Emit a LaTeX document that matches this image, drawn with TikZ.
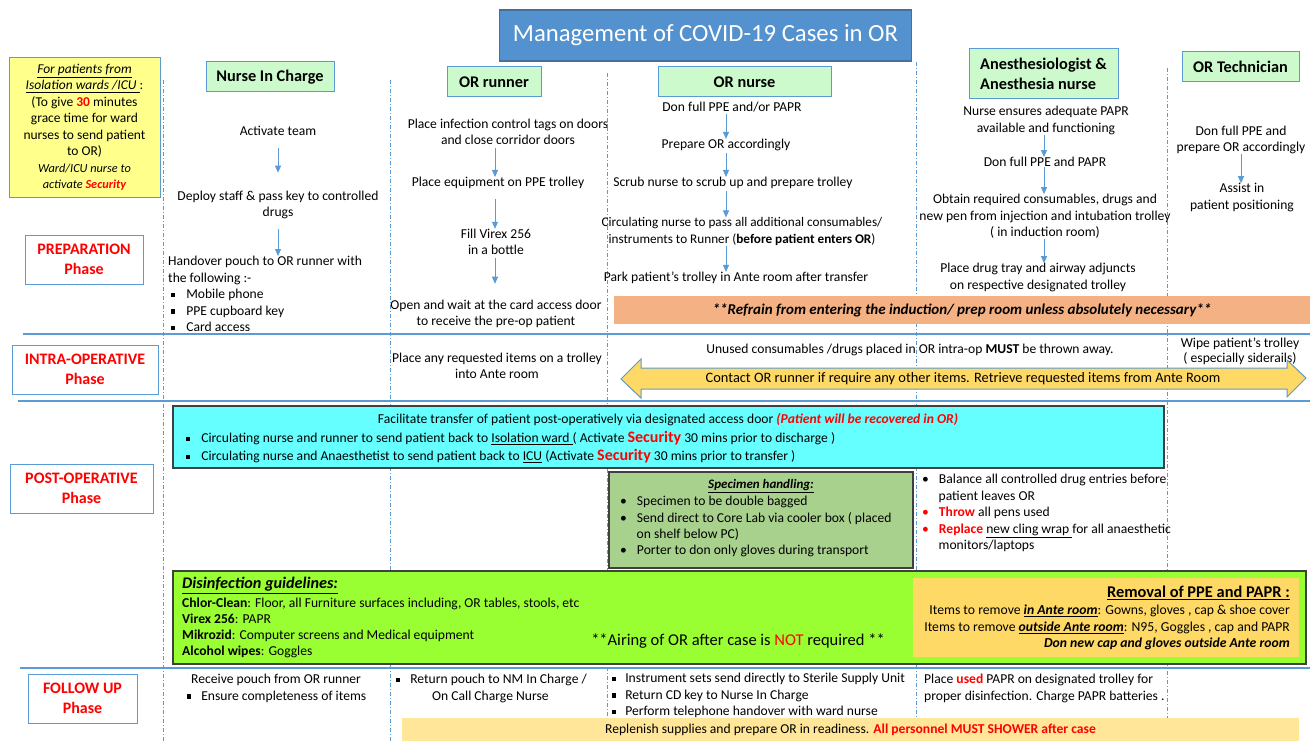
\documentclass[tikz,border=0pt]{standalone}
\usepackage{fontspec}
\setmainfont{Carlito}
\usepackage{tikz}
\usetikzlibrary{arrows.meta, positioning}
\usepackage{xcolor}
\definecolor{laneblue}{RGB}{91,155,213}
\definecolor{titleblue}{RGB}{84,146,207}
\definecolor{titleedge}{RGB}{65,113,156}
\definecolor{rolegreen}{RGB}{204,250,204}
\definecolor{noteyellow}{RGB}{255,255,140}
\definecolor{refrorange}{RGB}{244,177,131}
\definecolor{arrowyellow}{RGB}{255,217,102}
\definecolor{xfercyan}{RGB}{102,255,255}
\definecolor{specgreen}{RGB}{169,209,142}
\definecolor{limegreen}{RGB}{153,255,51}
\definecolor{ppeyellow}{RGB}{255,217,102}
\definecolor{restockyellow}{RGB}{255,230,153}
\newcommand{\txtfont}{\fontsize{13.6}{16.5}\selectfont}
\newcommand{\smfont}{\fontsize{13.6}{16.5}\selectfont}
\newcommand{\sqb}{\rule[0.12em]{0.3em}{0.3em}}
\newcommand{\rd}[1]{\textcolor{red}{\textbf{#1}}}
\tikzset{
	block/.style={draw=laneblue, line width=1pt},
	role/.style={block, fill=rolegreen, inner sep=2pt, font=\fontsize{16.3}{20}\selectfont\bfseries},
	phase/.style={block, fill=white, text=red, align=center, font=\fontsize{16}{19.5}\selectfont\bfseries},
	panel/.style={draw=black!75, line width=1.3pt},
	txt/.style={align=center, inner sep=0pt, font=\txtfont},
	sm/.style={align=left, inner sep=0pt, font=\smfont},
	flow/.style={draw=laneblue, line width=0.9pt, -{Triangle[width=6pt,length=7pt]}},
	lane/.style={draw=laneblue, dash pattern=on 4pt off 2pt on 1pt off 2pt, line width=0.8pt},
	phaseline/.style={draw=laneblue, line width=2.2pt}
}

\begin{document}
\begin{tikzpicture}[x=1pt, y=-1pt]
		\useasboundingbox (0,0) rectangle (1314,741);
		\fill[white] (0,0) rectangle (1314,741);
		
		% lanes and phases
		\draw[lane] (163,80) -- (163,741);
		\draw[lane] (390,80) -- (390,741);
		\draw[lane] (607,73) -- (607,741);
		\draw[lane] (916,62) -- (916,741);
		\draw[lane] (1167,68) -- (1167,741);
		\draw[phaseline] (23,334) -- (1310,334);
		\draw[phaseline] (18,401) -- (1310,401);
		\draw[phaseline] (20,668) -- (1310,668);
		
		\node[draw=titleedge, line width=1.2pt, fill=titleblue, text=white, minimum width=412, minimum height=51, font=\fontsize{24.7}{28}\selectfont] (title) at (705.5,35.5) {Management of COVID-19 Cases in OR};
		
		\node[block, fill=noteyellow, minimum width=151, minimum height=139, align=center, inner sep=0pt, font=\fontsize{13.5}{16.5}\selectfont] (isolation) at (84.5,127.5) {\underline{\textit{For patients from}}\\ \underline{\textit{Isolation wards /ICU }}:\\ (To give \rd{30} minutes\\ grace time for ward\\ nurses to send patient\\ to OR)\\ {\fontsize{12.3}{15.5}\selectfont\itshape Ward/ICU nurse to}\\ {\fontsize{12.3}{14.5}\selectfont\itshape activate \rd{Security}}};
		
		\node[role, minimum width=128, minimum height=30] (nic) at (270,77) {Nurse In Charge};
		\node[role, minimum width=94, minimum height=30] (runner) at (494,82) {OR runner};
		\node[role, minimum width=173, minimum height=30] (nurse) at (744.5,82) {OR nurse};
		\node[role, minimum width=149, minimum height=50, align=left] (anaes) at (1043.5,74) {Anesthesiologist \&\\ Anesthesia nurse};
		\node[role, minimum width=117, minimum height=30] (tech) at (1240.5,67) {OR Technician};
		
		\node[phase, minimum width=118, minimum height=49] (prep) at (84,259.5) {PREPARATION\\ Phase};
		\node[phase, minimum width=146, minimum height=49] (intra) at (85,369.5) {INTRA-OPERATIVE\\ Phase};
		\node[phase, minimum width=143, minimum height=49] (post) at (81.5,488.5) {POST-OPERATIVE\\ Phase};
		\node[phase, minimum width=109, minimum height=49] (follow) at (82.5,698.5) {FOLLOW UP\\ Phase};
		
		% preparation
		\coordinate (nicAxis) at (278,0);
		\coordinate (runAxis) at (495,0);
		\coordinate (nurAxis) at (726,0);
		\coordinate (anaAxis) at (1044,0);
		\coordinate (techAxis) at (1241,0);
		
		\node[txt] (nicAct) at (278,131) {Activate team};
		\node[txt] (nicDeploy) at (278,205) {Deploy staff \& pass key to controlled\\ drugs};
		\node[txt, align=left, anchor=north west] (nicHand) at (168,256) {Handover pouch to OR runner with\\ the following :-\\ \hspace*{3pt}\sqb\hspace{11pt}Mobile phone\\ \hspace*{3pt}\sqb\hspace{11pt}PPE cupboard key\\ \hspace*{3pt}\sqb\hspace{11pt}Card access};
		\draw[flow, shorten <=12pt, shorten >=18pt] (nicAct.south -| nicAxis) -- (nicDeploy.north -| nicAxis);
		\draw[flow, shorten <=10pt] (nicDeploy.south -| nicAxis) -- (nicHand.north -| nicAxis);
		
		\node[txt] (runTags) at (508,132) {Place infection control tags on doors\\ and close corridor doors};
		\node[txt] (runEquip) at (498,183) {Place equipment on PPE trolley};
		\node[txt] (runVirex) at (496,242) {Fill Virex 256\\ in a bottle};
		\node[txt] (runDoor) at (496,314) {Open and wait at the card access door\\ to receive the pre-op patient};
		\draw[flow, shorten <=3pt] (runTags.south -| runAxis) -- (runEquip.north -| runAxis);
		\draw[flow, shorten <=10pt] (runEquip.south -| runAxis) -- (runVirex.north -| runAxis);
		\draw[flow, shorten <=3pt, shorten >=16pt] (runVirex.south -| runAxis) -- (runDoor.north -| runAxis);
		
		\node[txt] (nurPPE) at (732,107) {Don full PPE and/or PAPR};
		\node[txt] (nurPrep) at (726,145) {Prepare OR accordingly};
		\node[txt] (nurScrub) at (733,183) {Scrub nurse to scrub up and prepare trolley};
		\node[txt, font=\fontsize{13.2}{16.5}\selectfont] (nurCirc) at (742,231.5) {Circulating nurse to pass all additional consumables/\\ instruments to Runner (\textbf{before patient enters OR})};
		\node[txt] (nurPark) at (736,278) {Park patient’s trolley in Ante room after transfer};
		\draw[flow, shorten <=2pt] (nurPPE.south -| nurAxis) -- (nurPrep.north -| nurAxis);
		\draw[flow, shorten <=2pt] (nurPrep.south -| nurAxis) -- (nurScrub.north -| nurAxis);
		\draw[flow, shorten <=2pt] (nurScrub.south -| nurAxis) -- (nurCirc.north -| nurAxis);
		\draw[flow] (nurCirc.south -| nurAxis) -- (nurPark.north -| nurAxis);
		
		\node[txt] (anaPAPR) at (1046,120.5) {Nurse ensures adequate PAPR\\ available and functioning};
		\node[txt] (anaDon) at (1045,162) {Don full PPE and PAPR};
		\node[txt] (anaObtain) at (1045,216.5) {Obtain required consumables, drugs and\\ new pen from injection and intubation trolley\\ ( in induction room)};
		\node[txt] (anaTray) at (1038,277.5) {Place drug tray and airway adjuncts\\ on respective designated trolley};
		\draw[flow] (anaPAPR.south -| anaAxis) -- (anaDon.north -| anaAxis);
		\draw[flow] (anaDon.south -| anaAxis) -- (anaObtain.north -| anaAxis);
		\draw[flow] (anaObtain.south -| anaAxis) -- (anaTray.north -| anaAxis);
		
		\node[txt] (techDon) at (1241,140) {Don full PPE and\\ prepare OR accordingly};
		\node[txt] (techAssist) at (1242,197.5) {Assist in\\ patient positioning};
		\draw[flow] (techDon.south -| techAxis) -- (techAssist.north -| techAxis);
		
		\node[fill=refrorange, minimum width=696, minimum height=28, font=\fontsize{15}{18}\selectfont\bfseries\itshape] (refrain) at (962,310) {**Refrain from entering the induction/ prep room unless absolutely necessary**};
		
		% intra-operative
		\node[txt] (runItems) at (497,366) {Place any requested items on a trolley\\ into Ante room};
		\node[txt] (unused) at (910,350) {Unused consumables /drugs placed in OR intra-op \textbf{MUST} be thrown away.};
		\node[txt, font=\fontsize{13.6}{15.5}\selectfont] (wipe) at (1240,351.5) {Wipe patient’s trolley\\ ( especially siderails)};
		\draw[block, fill=arrowyellow] (621,379) -- (641,359) -- (641,368) -- (1287,368) -- (1287,360) -- (1306,378) -- (1287,397) -- (1287,389) -- (641,389) -- (641,398) -- cycle;
		\node[txt, font=\fontsize{14.4}{16}\selectfont] (contact) at (963,379) {Contact OR runner if require any other items. Retrieve requested items from Ante Room};
		
		% post-operative
		\node[panel, fill=xfercyan, minimum width=991, minimum height=62] (xfer) at (668.5,437) {};
		\node[sm] (xferHead) at (668,420) {Facilitate transfer of patient post-operatively via designated access door \textcolor{red}{\textbf{\textit{(Patient will be recovered in OR)}}}};
		\node[sm, anchor=north west, font=\fontsize{13.6}{18}\selectfont] (xferList) at (186,431) {\sqb\hspace{11pt}Circulating nurse and runner to send patient back to \underline{Isolation ward }( Activate \textcolor{red}{\fontsize{16}{18}\selectfont\textbf{Security}} 30 mins prior to discharge )\\ \sqb\hspace{11pt}Circulating nurse and Anaesthetist to send patient back to \underline{ICU} (Activate \textcolor{red}{\fontsize{16}{18}\selectfont\textbf{Security}} 30 mins prior to transfer )};
		
		\node[panel, fill=specgreen, minimum width=304, minimum height=96] (specimen) at (761,520) {};
		\node[sm, font=\fontsize{13}{16}\selectfont] (specHead) at (761,486) {\textbf{\textit{\underline{Specimen handling:}}}};
		\node[sm, anchor=north west, font=\fontsize{13.6}{16.4}\selectfont] (specList) at (620,496) {\textbullet\hspace{10pt}Specimen to be double bagged\\ \textbullet\hspace{10pt}Send direct to Core Lab via cooler box ( placed\\ \hspace*{16.5pt}on shelf below PC)\\ \textbullet\hspace{10pt}Porter to don only gloves during transport};
		
		\node[sm, anchor=north west] (drugs) at (922,474) {\textbullet\hspace{10pt}Balance all controlled drug entries before\\ \hspace*{16.5pt}patient leaves OR\\ \textcolor{red}{\textbullet}\hspace{10pt}\rd{Throw} all pens used\\ \textcolor{red}{\textbullet}\hspace{10pt}\rd{Replace} \underline{new cling wrap }for all anaesthetic\\ \hspace*{16.5pt}monitors/laptops};
		
		\node[panel, fill=limegreen, minimum width=1133, minimum height=93] (disinf) at (739.5,617.5) {};
		\node[sm, anchor=north west, font=\fontsize{16.2}{18}\selectfont] (disHead) at (182,577) {\textbf{\textit{\underline{Disinfection guidelines:}}}};
		\node[sm, anchor=north west, font=\fontsize{13.6}{16}\selectfont] (disList) at (182,598) {\textbf{Chlor-Clean}: Floor, all Furniture surfaces including, OR tables, stools, etc\\ \textbf{Virex 256}: PAPR\\ \textbf{Mikrozid}: Computer screens and Medical equipment\\ \textbf{Alcohol wipes}: Goggles};
		\node[sm, font=\fontsize{16.5}{18}\selectfont] (airing) at (738,641) {**Airing of OR after case is \textcolor{red}{NOT} required **};
		
		\node[fill=ppeyellow, minimum width=386, minimum height=79] (ppe) at (1106,617.5) {};
		\node[sm, anchor=east, font=\fontsize{16.4}{18}\selectfont\bfseries] (ppeHead) at (1290,593) {\underline{Removal of PPE and PAPR :}};
		\node[sm, align=right, anchor=north east, font=\fontsize{13.7}{16.5}\selectfont] (ppeList) at (1290,605) {Items to remove \textbf{\textit{\underline{in Ante room}}}: Gowns, gloves , cap \& shoe cover\\ Items to remove \textbf{\textit{\underline{outside Ante room}}}: N95, Goggles , cap and PAPR\\ \textbf{\textit{Don new cap and gloves outside Ante room}}};
		
		% follow up
		\node[sm, anchor=north west] (nicPouch) at (187,674) {\hspace*{4pt}Receive pouch from OR runner\\ \sqb\hspace{10pt}Ensure completeness of items};
		\node[sm, anchor=north west] (runPouch) at (396,674) {\sqb\hspace{10pt}Return pouch to NM In Charge /\\ \hspace*{36pt}On Call Charge Nurse};
		\node[sm, anchor=north west] (nurSets) at (612,673) {\sqb\hspace{9pt}Instrument sets send directly to Sterile Supply Unit\\ \sqb\hspace{9pt}Return CD key to Nurse In Charge\\ \sqb\hspace{9pt}Perform telephone handover with ward nurse};
		\node[sm, anchor=north west] (anaBatt) at (924,674) {Place \rd{used} PAPR on designated trolley for\\ proper disinfection. Charge PAPR batteries .};
		\node[fill=restockyellow, minimum width=897, minimum height=23, font=\smfont] (restock) at (850.5,729.5) {Replenish supplies and prepare OR in readiness. \rd{All personnel MUST SHOWER after case}};
\end{tikzpicture}
\end{document}
